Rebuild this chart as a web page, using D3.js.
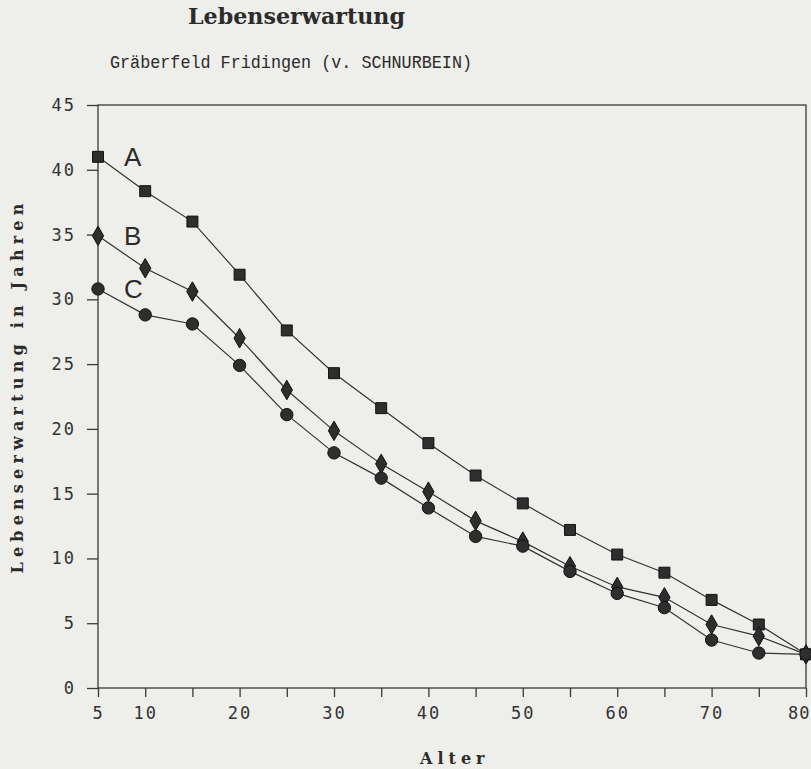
<!DOCTYPE html>
<html>
<head>
<meta charset="utf-8">
<script src="https://cdn.jsdelivr.net/npm/d3@7"></script>
<style>
  body { margin: 0; background: #eeeeea; }
  svg { display: block; }
</style>
</head>
<body>
<div class="container"></div>
<script>
const width = 811;
const height = 769;

// Alter (age classes)
const ages = [5, 10, 15, 20, 25, 30, 35, 40, 45, 50, 55, 60, 65, 70, 75, 80];
// Lebenserwartung
const seriesA = [41.0, 38.35, 36.0, 31.9, 27.6, 24.3, 21.6, 18.9, 16.4, 14.25, 12.2, 10.3, 8.9, 6.8, 4.9, 2.6];
const seriesB = [34.9, 32.4, 30.6, 27.0, 23.0, 19.85, 17.3, 15.15, 12.9, 11.3, 9.4, 7.8, 7.0, 4.9, 4.0, 2.6];
const seriesC = [30.8, 28.8, 28.1, 24.9, 21.1, 18.15, 16.2, 13.9, 11.7, 10.95, 9.0, 7.3, 6.2, 3.7, 2.7, 2.6];
const seriesNames = ["A", "B", "C"];
const xTickValues = [5, 10, 15, 20, 25, 30, 35, 40, 45, 50, 55, 60, 65, 70, 75, 80];
const xTickLabels = [5, 10, 20, 30, 40, 50, 60, 70, 80];
const yTickValues = [0, 5, 10, 15, 20, 25, 30, 35, 40, 45];

const serif = "DejaVu Serif, Liberation Serif, serif";

const svg = d3.select(".container")
    .append("svg")
    .attr("width", width)
    .attr("height", height);

const x = d3.scaleLinear().domain([5, 80]).range([98, 806]);
const y = d3.scaleLinear().domain([0, 45]).range([688, 105]);

// titles
svg.append("text")
    .attr("x", 188)
    .attr("y", 24)
    .attr("textLength", 217)
    .attr("lengthAdjust", "spacingAndGlyphs")
    .attr("font-family", serif)
    .attr("font-weight", "bold")
    .attr("font-size", 23)
    .attr("fill", "#2b2b2b")
    .text("Lebenserwartung");

svg.append("text")
    .attr("x", 110)
    .attr("y", 68)
    .attr("textLength", 362)
    .attr("lengthAdjust", "spacingAndGlyphs")
    .attr("font-family", "Liberation Mono, monospace")
    .attr("font-size", 18)
    .attr("fill", "#2b2b2b")
    .text("Gräberfeld Fridingen (v. SCHNURBEIN)");

// frame
svg.append("rect")
    .attr("x", x(5))
    .attr("y", y(45))
    .attr("width", x(80) - x(5))
    .attr("height", y(0) - y(45))
    .attr("fill", "none")
    .attr("stroke", "#3a3a3a")
    .attr("stroke-width", 1.3);

// axes
const yAxis = d3.axisLeft(y)
    .tickValues(yTickValues)
    .tickSize(11)
    .tickPadding(11)
    .tickFormat(d3.format("d"));

const xAxis = d3.axisBottom(x)
    .tickValues(xTickValues)
    .tickSize(9)
    .tickPadding(10)
    .tickFormat(d => xTickLabels.includes(d) ? d : "");

const gy = svg.append("g")
    .attr("transform", `translate(${x(5)},0)`)
    .call(yAxis);

const gx = svg.append("g")
    .attr("transform", `translate(0,${y(0)})`)
    .call(xAxis);

[gx, gy].forEach(g => {
    g.select(".domain").remove();
    g.selectAll("line").attr("stroke", "#3a3a3a").attr("stroke-width", 1.3);
    g.selectAll("text")
        .attr("font-family", "DejaVu Sans Mono, monospace")
        .attr("font-size", 17)
        .attr("letter-spacing", 2)
        .attr("fill", "#333");
});

// last label sits just inside the page edge
gx.selectAll(".tick text")
    .filter(d => d === 80)
    .attr("text-anchor", "end")
    .attr("dx", 4)
    .attr("letter-spacing", 1);

// axis titles
svg.append("text")
    .attr("transform", "translate(23,386) rotate(-90)")
    .attr("text-anchor", "middle")
    .attr("font-family", serif)
    .attr("font-weight", "bold")
    .attr("font-size", 16)
    .attr("letter-spacing", 5.2)
    .attr("fill", "#2b2b2b")
    .text("Lebenserwartung in Jahren");

svg.append("text")
    .attr("x", 420)
    .attr("y", 764)
    .attr("font-family", serif)
    .attr("font-weight", "bold")
    .attr("font-size", 16)
    .attr("letter-spacing", 5)
    .attr("fill", "#2b2b2b")
    .text("Alter");

// series
const allSeries = [
    { name: "A", values: seriesA, symbol: d3.symbolSquare, size: 120 },
    { name: "B", values: seriesB, symbol: d3.symbolDiamond, size: 110 },
    { name: "C", values: seriesC, symbol: d3.symbolCircle, size: 120 }
];

const line = d3.line()
    .x(d => x(d[0]))
    .y(d => y(d[1]));

allSeries.forEach(s => {
    const pts = ages.map((a, i) => [a, s.values[i]]);
    svg.append("path")
        .datum(pts)
        .attr("fill", "none")
        .attr("stroke", "#333")
        .attr("stroke-width", 1.2)
        .attr("d", line);
});

allSeries.forEach(s => {
    const pts = ages.map((a, i) => [a, s.values[i]]);
    svg.append("g")
        .selectAll("path")
        .data(pts)
        .enter()
        .append("path")
        .attr("transform", d => `translate(${x(d[0])},${y(d[1])})`)
        .attr("d", d3.symbol().type(s.symbol).size(s.size))
        .attr("fill", "#2e2e2e")
        .attr("stroke", "#111")
        .attr("stroke-width", 1);

    // series letter next to first point
    svg.append("text")
        .attr("x", x(ages[0]) + 26)
        .attr("y", y(s.values[0]) + 9)
        .attr("font-family", "Liberation Sans, Arial, sans-serif")
        .attr("font-size", 26)
        .attr("fill", "#2b2b2b")
        .text(s.name);
});
</script>
</body>
</html>
